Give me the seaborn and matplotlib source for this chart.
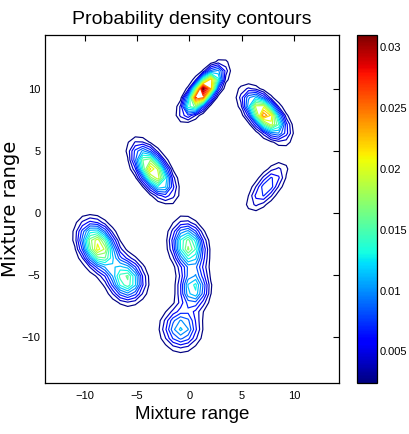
import numpy as np
import matplotlib
matplotlib.use("Agg")
import matplotlib.pyplot as plt
import seaborn as sns

# Gaussian mixture components
comp_mean_x = [1.3, 7.2, -3.5, 7.4, -8.7, -6.0, -0.1, 0.4, -0.8]
comp_mean_y = [9.8, 7.9, 3.4, 2.1, -2.7, -5.4, -2.7, -6.1, -9.3]
comp_sigma_long = [1.45, 1.5, 1.55, 1.6, 1.35, 1.1, 1.2, 1.0, 1.15]
comp_sigma_short = [0.55, 0.7, 0.75, 0.65, 0.95, 1.0, 0.95, 0.9, 1.05]
comp_angle_deg = [45, -40, -48, 45, -50, -40, -65, 90, 0]
comp_weight = [0.165, 0.168, 0.165, 0.056, 0.175, 0.115, 0.130, 0.078, 0.090]

x_range = (-13.8, 14.26)
y_range = (-13.7, 14.3)
n_grid = 40
level_min, level_max, n_levels = 0.0024, 0.031, 20
cbar_ticks = [0.005, 0.01, 0.015, 0.02, 0.025, 0.03]
axis_ticks = [-10, -5, 0, 5, 10]


def mixture_density(X, Y):
    Z = np.zeros_like(X)
    for mx, my, sl, ss, ang, w in zip(comp_mean_x, comp_mean_y, comp_sigma_long,
                                      comp_sigma_short, comp_angle_deg, comp_weight):
        t = np.deg2rad(ang)
        R = np.array([[np.cos(t), -np.sin(t)], [np.sin(t), np.cos(t)]])
        cov = R @ np.diag([sl ** 2, ss ** 2]) @ R.T
        inv = np.linalg.inv(cov)
        dx, dy = X - mx, Y - my
        q = inv[0, 0] * dx ** 2 + 2 * inv[0, 1] * dx * dy + inv[1, 1] * dy ** 2
        Z += w * np.exp(-0.5 * q) / (2 * np.pi * np.sqrt(np.linalg.det(cov)))
    return Z


sns.set_theme(style="white")
plt.rcParams['font.family'] = ['Liberation Sans', 'DejaVu Sans']

xs = np.linspace(*x_range, n_grid)
ys = np.linspace(*y_range, n_grid)
X, Y = np.meshgrid(xs, ys)
Z = mixture_density(X, Y)

fig = plt.figure(figsize=(4.10, 4.34), dpi=100)
ax = fig.add_axes([0.109, 0.1175, 0.718, 0.8015])
cax = fig.add_axes([0.870, 0.1175, 0.049, 0.8015])

norm = plt.Normalize(level_min, level_max)
levels = np.linspace(level_min, level_max, n_levels)
ax.contour(X, Y, Z, levels=levels, cmap="jet", norm=norm, linewidths=0.85)

ax.set_xlim(*x_range)
ax.set_ylim(*y_range)
ax.set_xticks(axis_ticks)
ax.set_yticks(axis_ticks)
ax.tick_params(direction="in", length=4, width=0.8, top=True, right=True,
               labelsize=8, colors="black")
ax.tick_params(axis="x", pad=6)
ax.tick_params(axis="y", pad=3)
for s in ax.spines.values():
    s.set_color("black")
    s.set_linewidth(0.9)

ax.set_title("Probability density contours", fontsize=14, pad=8, color="black")
ax.set_xlabel("Mixture range", fontsize=13.5, labelpad=3, color="black")
ax.set_ylabel("Mixture range", fontsize=14, color="black", family="DejaVu Sans")
ax.yaxis.set_label_coords(-0.083, 0.5)

sm = plt.cm.ScalarMappable(norm=norm, cmap="jet")
cb = fig.colorbar(sm, cax=cax, ticks=cbar_ticks)
cb.ax.tick_params(direction="in", length=3, width=0.8, labelsize=8, left=True,
                  right=True, pad=2, colors="black")
cb.ax.set_yticklabels([f"{t:g}" for t in cbar_ticks])
cb.outline.set_linewidth(0.9)
cb.outline.set_edgecolor("black")

fig.savefig("out.png", dpi=100)
